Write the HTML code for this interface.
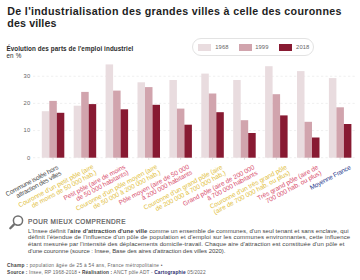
<!DOCTYPE html>
<html><head><meta charset="utf-8">
<style>
html,body{margin:0;padding:0;background:#fff;}
body{width:360px;height:280px;position:relative;overflow:hidden;font-family:"Liberation Sans",sans-serif;}
.a{position:absolute;white-space:nowrap;line-height:1;}
#legend{left:192px;top:38.2px;width:122px;height:17.6px;border:0.7px solid #e3e3e3;border-radius:9px;box-sizing:border-box;}
.sw{position:absolute;top:5.1px;width:12.8px;height:6.4px;}
.lt{position:absolute;top:6.2px;font-size:5.8px;color:#666;letter-spacing:0.1px;}
svg{position:absolute;left:0;top:0;}
</style></head><body>
<div class="a" id="t1" style="left:7.3px;top:5.84px;font-size:10.7px;font-weight:bold;color:#1e1e1e;letter-spacing:0.310px">De l'industrialisation des grandes villes à celle des couronnes</div>
<div class="a" id="t2" style="left:7.3px;top:18.24px;font-size:10.7px;font-weight:bold;color:#1e1e1e;letter-spacing:0.111px">des villes</div>
<div class="a" id="s1" style="left:6.4px;top:45.67px;font-size:6.3px;font-weight:bold;color:#2a2a2a;letter-spacing:0.098px">Évolution des parts de l'emploi industriel</div>
<div class="a" id="s2" style="left:6.4px;top:52.97px;font-size:6.3px;font-weight:normal;color:#2a2a2a;letter-spacing:0.200px">en %</div>
<div class="a" id="p0" style="left:28px;top:219.08px;font-size:6.4px;font-weight:normal;-webkit-text-stroke:0.2px #555;color:#5a5a5a;letter-spacing:0.450px">POUR MIEUX COMPRENDRE</div>
<div class="a" id="b1" style="left:28px;top:227.52px;font-size:6.0px;font-weight:normal;color:#444;letter-spacing:0.061px">L'Insee définit l'<b>aire d'attraction d'une ville</b> comme un ensemble de communes, d'un seul tenant et sans enclave, qui</div>
<div class="a" id="b2" style="left:28px;top:234.32px;font-size:6.0px;font-weight:normal;color:#444;letter-spacing:0.157px">définit l'étendue de l'influence d'un pôle de population et d'emploi sur les communes environnantes, cette influence</div>
<div class="a" id="b3" style="left:28px;top:241.02px;font-size:6.0px;font-weight:normal;color:#444;letter-spacing:0.095px">étant mesurée par l'intensité des déplacements domicile-travail. Chaque aire d'attraction est constituée d'un pôle et</div>
<div class="a" id="b4" style="left:28px;top:247.72px;font-size:6.0px;font-weight:normal;color:#444;letter-spacing:-0.053px">d'une couronne (source : Insee, Base des aires d'attraction des villes 2020).</div>
<div class="a" id="f1" style="left:7.1px;top:264.14px;font-size:4.8px;font-weight:normal;color:#666;letter-spacing:0.252px"><b style="color:#444">Champ :</b> population âgée de 25 à 54 ans, France métropolitaine •</div>
<div class="a" id="f2" style="left:7.1px;top:270.84px;font-size:4.8px;font-weight:normal;color:#666;letter-spacing:0.150px"><b style="color:#444">Source :</b> Insee, RP 1968-2018 • <b style="color:#444">Réalisation :</b> ANCT pôle ADT - <b style="color:#2b2b6e">Cartographie</b> 05/2022</div>
<div class="a" id="legend">
 <div class="sw" style="left:5.4px;background:#e9dcdf"></div><div class="lt" style="left:22.3px">1968</div>
 <div class="sw" style="left:46px;background:#d1a4ad"></div><div class="lt" style="left:62.2px">1999</div>
 <div class="sw" style="left:86.2px;background:#881a32"></div><div class="lt" style="left:103.1px">2018</div>
</div>
<svg width="360" height="280" viewBox="0 0 360 280" font-family="Liberation Sans, sans-serif">
<line x1="33" y1="76.25" x2="356" y2="76.25" stroke="#e2e2e2" stroke-width="0.55" stroke-dasharray="2.2 2.3"/><text x="30.5" y="78.05" text-anchor="end" font-size="5.8" fill="#666" letter-spacing="0.3">30</text><line x1="33" y1="103.40" x2="356" y2="103.40" stroke="#e2e2e2" stroke-width="0.55" stroke-dasharray="2.2 2.3"/><text x="30.5" y="105.20" text-anchor="end" font-size="5.8" fill="#666" letter-spacing="0.3">20</text><line x1="33" y1="130.55" x2="356" y2="130.55" stroke="#e2e2e2" stroke-width="0.55" stroke-dasharray="2.2 2.3"/><text x="30.5" y="132.35" text-anchor="end" font-size="5.8" fill="#666" letter-spacing="0.3">10</text><line x1="33" y1="157.70" x2="356" y2="157.70" stroke="#e2e2e2" stroke-width="0.55" stroke-dasharray="2.2 2.3"/><text x="30.5" y="159.50" text-anchor="end" font-size="5.8" fill="#666" letter-spacing="0.3">0</text><rect x="41.80" y="111.20" width="7.50" height="46.50" fill="#e9dcdf"/><rect x="49.30" y="100.90" width="7.50" height="56.80" fill="#d1a4ad"/><rect x="56.80" y="112.80" width="7.50" height="44.90" fill="#881a32"/><line x1="53.05" y1="157.70" x2="53.05" y2="159.70" stroke="#bbb" stroke-width="0.5"/><rect x="73.70" y="105.70" width="7.50" height="52.00" fill="#e9dcdf"/><rect x="81.20" y="91.90" width="7.50" height="65.80" fill="#d1a4ad"/><rect x="88.70" y="104.10" width="7.50" height="53.60" fill="#881a32"/><line x1="84.95" y1="157.70" x2="84.95" y2="159.70" stroke="#bbb" stroke-width="0.5"/><rect x="105.60" y="64.40" width="7.50" height="93.30" fill="#e9dcdf"/><rect x="113.10" y="90.60" width="7.50" height="67.10" fill="#d1a4ad"/><rect x="120.60" y="109.30" width="7.50" height="48.40" fill="#881a32"/><line x1="116.85" y1="157.70" x2="116.85" y2="159.70" stroke="#bbb" stroke-width="0.5"/><rect x="137.50" y="82.30" width="7.50" height="75.40" fill="#e9dcdf"/><rect x="145.00" y="87.10" width="7.50" height="70.60" fill="#d1a4ad"/><rect x="152.50" y="104.80" width="7.50" height="52.90" fill="#881a32"/><line x1="148.75" y1="157.70" x2="148.75" y2="159.70" stroke="#bbb" stroke-width="0.5"/><rect x="169.40" y="80.00" width="7.50" height="77.70" fill="#e9dcdf"/><rect x="176.90" y="108.60" width="7.50" height="49.10" fill="#d1a4ad"/><rect x="184.40" y="124.70" width="7.50" height="33.00" fill="#881a32"/><line x1="180.65" y1="157.70" x2="180.65" y2="159.70" stroke="#bbb" stroke-width="0.5"/><rect x="201.30" y="73.60" width="7.50" height="84.10" fill="#e9dcdf"/><rect x="208.80" y="93.50" width="7.50" height="64.20" fill="#d1a4ad"/><rect x="216.30" y="112.20" width="7.50" height="45.50" fill="#881a32"/><line x1="212.55" y1="157.70" x2="212.55" y2="159.70" stroke="#bbb" stroke-width="0.5"/><rect x="233.20" y="80.00" width="7.50" height="77.70" fill="#e9dcdf"/><rect x="240.70" y="120.20" width="7.50" height="37.50" fill="#d1a4ad"/><rect x="248.20" y="133.00" width="7.50" height="24.70" fill="#881a32"/><line x1="244.45" y1="157.70" x2="244.45" y2="159.70" stroke="#bbb" stroke-width="0.5"/><rect x="265.10" y="66.20" width="7.50" height="91.50" fill="#e9dcdf"/><rect x="272.60" y="94.20" width="7.50" height="63.50" fill="#d1a4ad"/><rect x="280.10" y="115.40" width="7.50" height="42.30" fill="#881a32"/><line x1="276.35" y1="157.70" x2="276.35" y2="159.70" stroke="#bbb" stroke-width="0.5"/><rect x="297.00" y="71.10" width="7.50" height="86.60" fill="#e9dcdf"/><rect x="304.50" y="121.80" width="7.50" height="35.90" fill="#d1a4ad"/><rect x="312.00" y="137.50" width="7.50" height="20.20" fill="#881a32"/><line x1="308.25" y1="157.70" x2="308.25" y2="159.70" stroke="#bbb" stroke-width="0.5"/><rect x="328.90" y="78.10" width="7.50" height="79.60" fill="#e9dcdf"/><rect x="336.40" y="107.30" width="7.50" height="50.40" fill="#d1a4ad"/><rect x="343.90" y="124.00" width="7.50" height="33.70" fill="#881a32"/><line x1="340.15" y1="157.70" x2="340.15" y2="159.70" stroke="#bbb" stroke-width="0.5"/><g transform="translate(60.15,171.80) rotate(-28)" fill="#4a4a4a" font-size="6.5" letter-spacing="-0.25" text-anchor="end"><text x="0" y="-3.25">Commune isolée hors</text><text x="0" y="3.25">attraction des villes</text></g><g transform="translate(95.45,171.00) rotate(-28)" fill="#e2c03c" font-size="6.5" letter-spacing="-0.05" text-anchor="end"><text x="0" y="-3.25">Couronne d'un petit pôle (aire</text><text x="0" y="3.25">de moins de 50 000 hab.)</text></g><g transform="translate(127.35,171.00) rotate(-28)" fill="#d84e6c" font-size="6.5" letter-spacing="-0.05" text-anchor="end"><text x="0" y="-3.25">Petit pôle (aire de moins</text><text x="0" y="3.25">de 50 000 habitants)</text></g><g transform="translate(159.25,171.00) rotate(-28)" fill="#e2c03c" font-size="6.5" letter-spacing="-0.05" text-anchor="end"><text x="0" y="-3.25">Couronne d'un pôle moyen (aire</text><text x="0" y="3.25">de 50 000 à 200 000 hab.)</text></g><g transform="translate(191.15,171.00) rotate(-28)" fill="#d84e6c" font-size="6.5" letter-spacing="-0.05" text-anchor="end"><text x="0" y="-3.25">Pôle moyen (aire de 50 000</text><text x="0" y="3.25">à 200 000 habitants</text></g><g transform="translate(224.55,171.50) rotate(-28)" fill="#e2c03c" font-size="6.5" letter-spacing="-0.05" text-anchor="end"><text x="0" y="-3.25">Couronne d'un grand pôle (aire</text><text x="0" y="3.25">de 200 000 à 700 000 hab.)</text></g><g transform="translate(256.45,171.50) rotate(-28)" fill="#d84e6c" font-size="6.5" letter-spacing="-0.05" text-anchor="end"><text x="0" y="-3.25">Grand pôle (aire de 200 000</text><text x="0" y="3.25">à 700 000 habitants</text></g><g transform="translate(288.85,171.50) rotate(-28)" fill="#e2c03c" font-size="6.5" letter-spacing="-0.05" text-anchor="end"><text x="0" y="-3.25">Couronne d'un très grand pôle</text><text x="0" y="3.25">(aire de 700 000 hab. ou plus)</text></g><g transform="translate(320.25,171.50) rotate(-28)" fill="#d84e6c" font-size="6.5" letter-spacing="-0.05" text-anchor="end"><text x="0" y="-3.25">Très grand pôle (aire de</text><text x="0" y="3.25">700 000 hab. ou plus)</text></g><g transform="translate(351.15,168.80) rotate(-28)" fill="#2b3b8e" font-size="6.5" letter-spacing="-0.25" text-anchor="end"><text x="0" y="0.00">Moyenne France</text></g>
<g fill="none" stroke="#707070" stroke-linecap="round">
<circle cx="18" cy="220.6" r="4.6" stroke-width="1.5"/>
<line x1="13.9" y1="224.6" x2="10.3" y2="228.3" stroke-width="2.3"/>
</g>
</svg>
</body></html>
